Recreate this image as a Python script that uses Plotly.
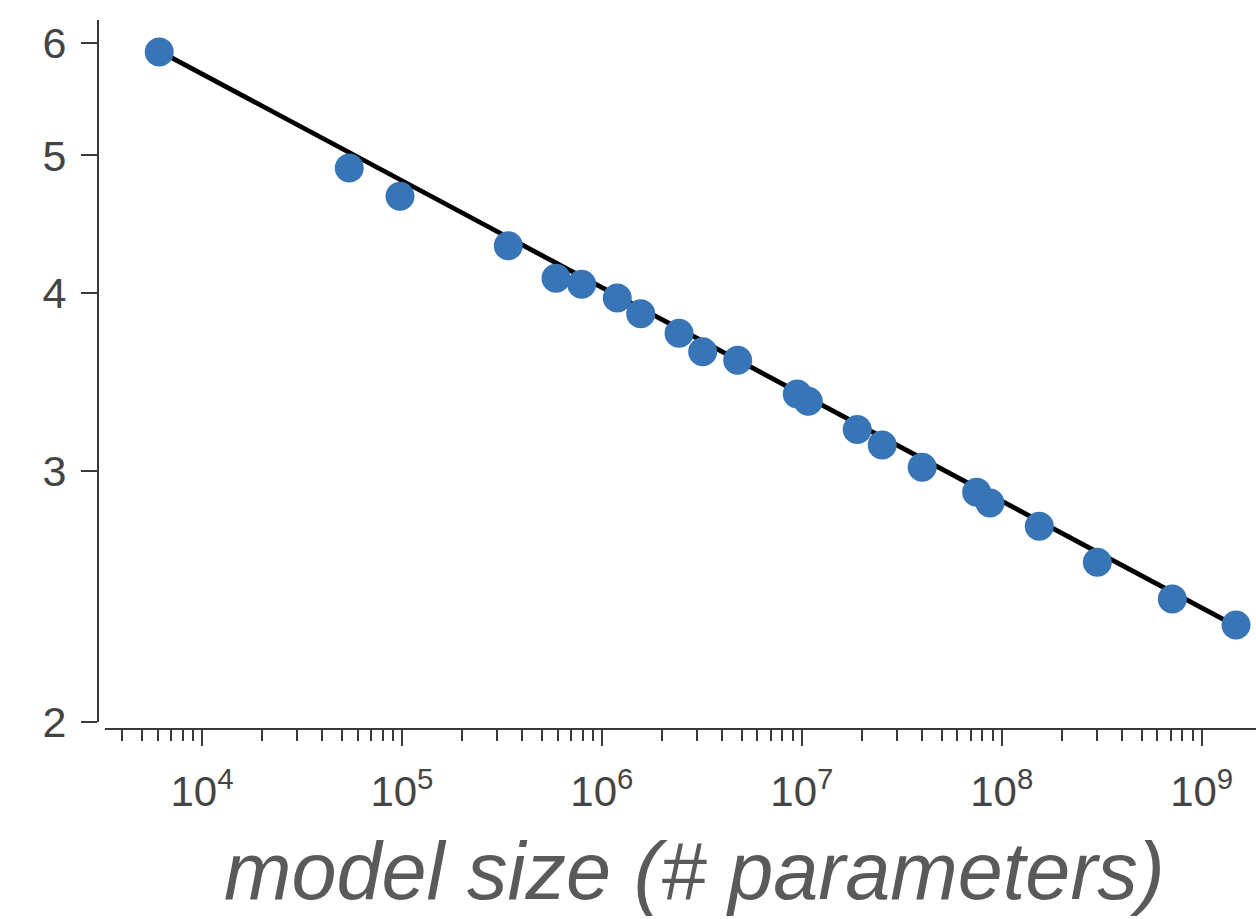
import plotly.graph_objects as go

# Data (model size vs. loss)
model_size = [6113, 54530, 97800, 340400, 589600, 792600, 1.194e6, 1.564e6,
              2.432e6, 3.193e6, 4.777e6, 9.49e6, 1.077e7, 1.893e7, 2.524e7,
              4.0e7, 7.49e7, 8.73e7, 1.541e8, 3.006e8, 7.13e8, 1.485e9]
loss = [5.91, 4.90, 4.68, 4.32, 4.10, 4.06, 3.97, 3.87,
        3.75, 3.64, 3.59, 3.40, 3.36, 3.21, 3.13,
        3.02, 2.90, 2.85, 2.745, 2.59, 2.44, 2.34]

# Power-law fit line end points
fit_x = [6113, 1.485e9]
fit_y = [5.92, 2.335]

x_major = [1e4, 1e5, 1e6, 1e7, 1e8, 1e9]
x_major_text = ["10<sup>4</sup>", "10<sup>5</sup>", "10<sup>6</sup>",
                "10<sup>7</sup>", "10<sup>8</sup>", "10<sup>9</sup>"]
x_minor = [m * 10 ** e for e in range(3, 10) for m in range(2, 10)]
y_ticks = [2, 3, 4, 5, 6]
y_tick_text = ["2", "3", "4", "5", "6"]

W, H = 1256, 919
ML, MR, MT, MB = 98, 0, 20, 190
PW = W - ML - MR
PH = H - MT - MB

axis_col = "#3a3a3a"
text_col = "#444444"
font_family = "Liberation Sans, Arial, Helvetica, sans-serif"

fig = go.Figure()
fig.add_trace(go.Scatter(x=fit_x, y=fit_y, mode="lines",
                         line=dict(color="black", width=4.8),
                         hoverinfo="skip", showlegend=False, cliponaxis=False))
fig.add_trace(go.Scatter(x=model_size, y=loss, mode="markers",
                         marker=dict(color="#3875b7", size=29, line=dict(width=0)),
                         showlegend=False, cliponaxis=False))

fig.update_layout(
    width=W, height=H, autosize=False,
    margin=dict(l=ML, r=MR, t=MT, b=MB, pad=0),
    paper_bgcolor="white", plot_bgcolor="white",
    font=dict(family=font_family, color=text_col),
    xaxis=dict(
        type="log", domain=[7 / PW, 1], range=[3.5149, 9.2716],
        anchor="free", position=0,
        showline=True, linecolor=axis_col, linewidth=2,
        showgrid=False, zeroline=False,
        tickmode="array", tickvals=x_major, ticktext=x_major_text,
        ticks="outside", ticklen=16, tickwidth=2, tickcolor=axis_col,
        ticklabelstandoff=10,
        tickfont=dict(size=42, color=text_col, family=font_family),
        minor=dict(tickmode="array", tickvals=x_minor, ticks="outside",
                   ticklen=11, tickwidth=2, tickcolor=axis_col, showgrid=False),
    ),
    yaxis=dict(
        type="log", domain=[7 / PH, 1], range=[0.30103, 0.7941],
        anchor="free", position=0,
        showline=True, linecolor=axis_col, linewidth=2,
        showgrid=False, zeroline=False,
        tickmode="array", tickvals=y_ticks, ticktext=y_tick_text,
        ticks="outside", ticklen=16, tickwidth=2, tickcolor=axis_col,
        ticklabelstandoff=6,
        tickfont=dict(size=43, color=text_col, family=font_family),
    ),
    annotations=[dict(
        text="model size (# parameters)", xref="paper", yref="paper",
        x=(694 - ML) / PW, y=(729 - 871) / PH,
        xanchor="center", yanchor="middle", showarrow=False,
        font=dict(size=81, color="#5a5a5a", family=font_family, style="italic",
                  weight=300),
    )],
)

fig.write_html("out.html")
